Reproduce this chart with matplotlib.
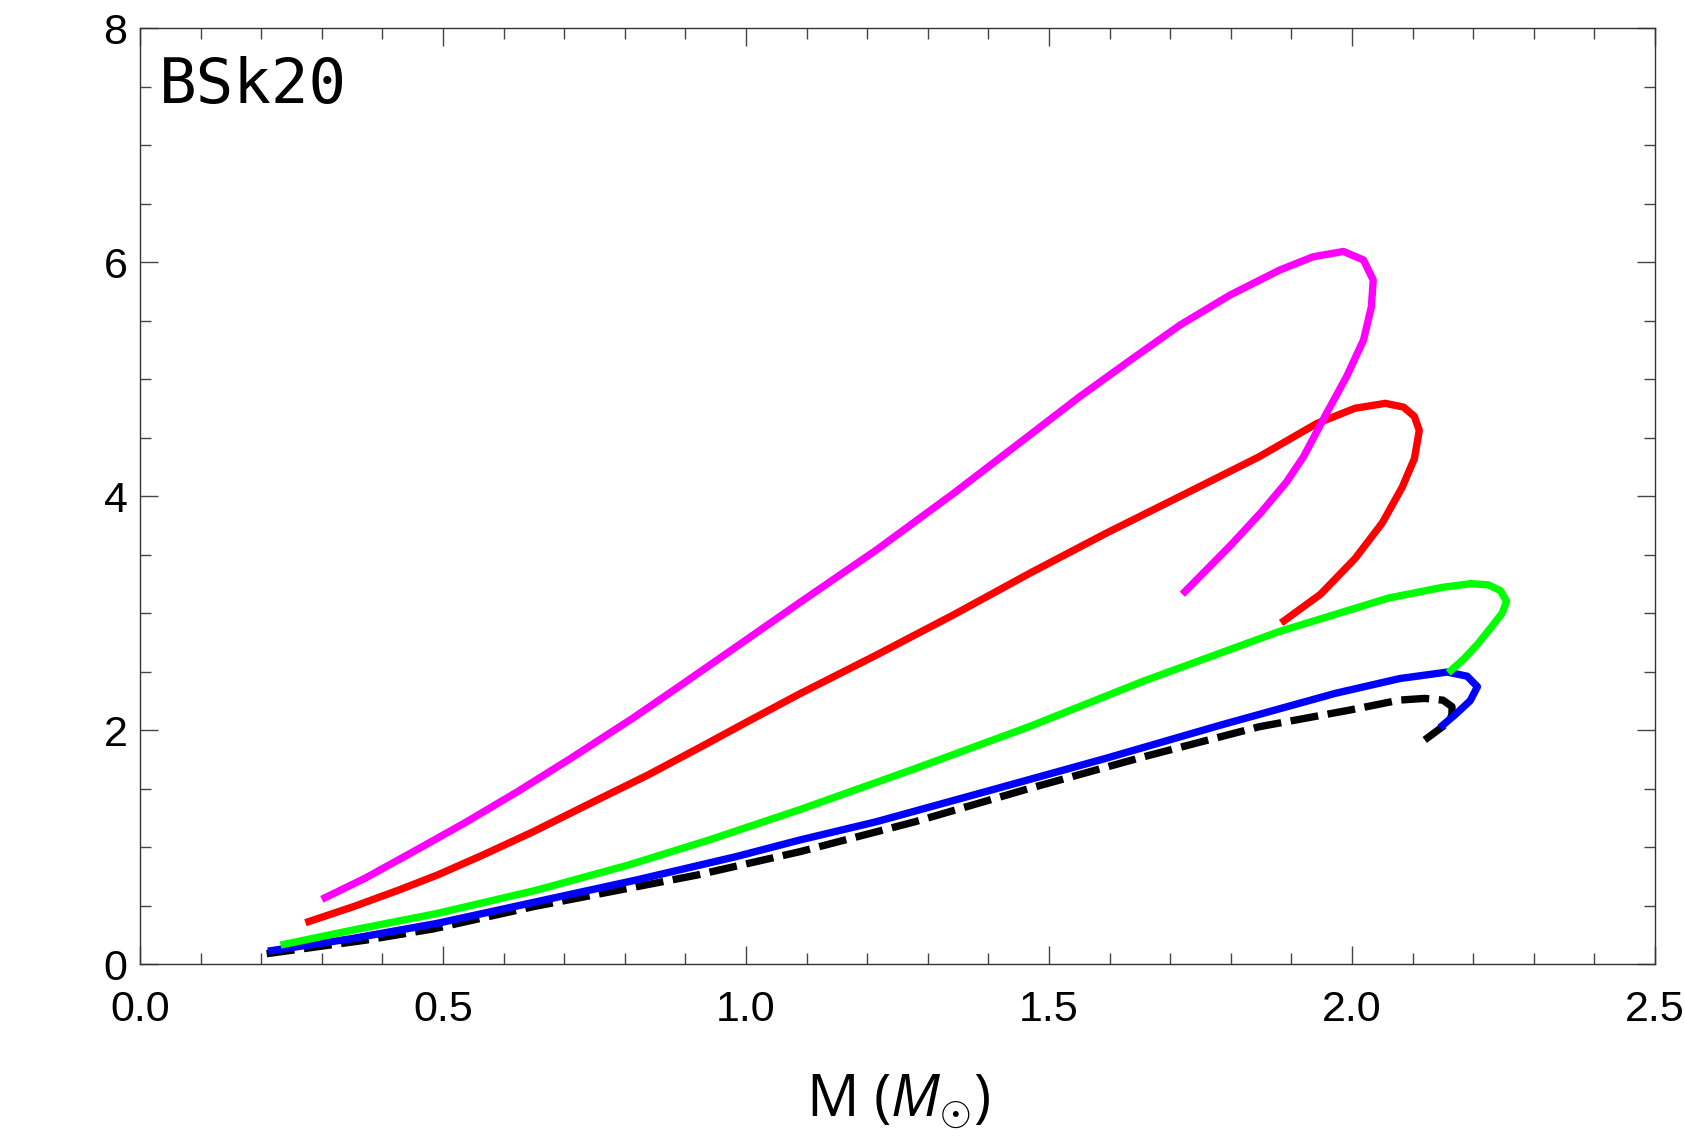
import matplotlib
matplotlib.use("Agg")
import matplotlib.pyplot as plt
from matplotlib.ticker import MultipleLocator, FormatStrFormatter

# values (x: mass in solar masses)
m_magenta = [0.300, 0.371, 0.443, 0.535, 0.623, 0.711, 0.813, 0.901, 0.996, 1.089,
             1.215, 1.342, 1.468, 1.551, 1.634, 1.716, 1.799, 1.881, 1.936, 1.986,
             2.019, 2.035, 2.032, 2.019, 1.991, 1.958, 1.920, 1.892, 1.850, 1.800,
             1.760, 1.720]
y_magenta = [0.553, 0.732, 0.937, 1.203, 1.473, 1.758, 2.100, 2.413, 2.755, 3.090,
             3.538, 4.020, 4.520, 4.850, 5.160, 5.460, 5.718, 5.932, 6.045, 6.090,
             6.017, 5.846, 5.618, 5.333, 5.020, 4.707, 4.336, 4.120, 3.860, 3.580,
             3.370, 3.160]

m_red = [0.273, 0.352, 0.427, 0.491, 0.566, 0.649, 0.743, 0.838, 0.926, 1.002,
         1.089, 1.215, 1.342, 1.468, 1.594, 1.721, 1.847, 1.942, 2.005, 2.055,
         2.085, 2.103, 2.111, 2.103, 2.083, 2.050, 2.005, 1.948, 1.883]
y_red = [0.353, 0.490, 0.632, 0.761, 0.932, 1.131, 1.373, 1.615, 1.857, 2.070,
         2.310, 2.640, 2.983, 3.339, 3.681, 4.009, 4.336, 4.620, 4.750, 4.792,
         4.760, 4.680, 4.560, 4.320, 4.077, 3.770, 3.465, 3.160, 2.915]

m_green = [0.232, 0.352, 0.491, 0.655, 0.806, 0.939, 1.089, 1.279, 1.468, 1.657,
           1.879, 2.061, 2.150, 2.196, 2.225, 2.245, 2.255, 2.248, 2.230, 2.207,
           2.185, 2.159]
y_green = [0.162, 0.291, 0.433, 0.632, 0.846, 1.060, 1.320, 1.670, 2.030, 2.420,
           2.840, 3.129, 3.220, 3.251, 3.240, 3.190, 3.100, 3.000, 2.880, 2.732,
           2.610, 2.488]

m_blue = [0.211, 0.352, 0.491, 0.655, 0.819, 0.983, 1.089, 1.215, 1.405, 1.594,
          1.784, 1.973, 2.079, 2.157, 2.190, 2.207, 2.195, 2.170, 2.145]
y_blue = [0.110, 0.219, 0.348, 0.533, 0.718, 0.917, 1.060, 1.216, 1.487, 1.758,
          2.043, 2.314, 2.440, 2.495, 2.460, 2.370, 2.250, 2.130, 2.020]

m_black = [0.209, 0.374, 0.484, 0.649, 0.919, 1.089, 1.279, 1.468, 1.657, 1.847,
           1.997, 2.079, 2.120, 2.150, 2.165, 2.165, 2.150, 2.120]
y_black = [0.088, 0.205, 0.300, 0.490, 0.760, 0.960, 1.216, 1.501, 1.772, 2.028,
           2.171, 2.256, 2.270, 2.255, 2.200, 2.120, 2.030, 1.915]

plt.rcParams['mathtext.fontset'] = 'custom'
plt.rcParams['mathtext.rm'] = 'Open Sans'
plt.rcParams['mathtext.it'] = 'Open Sans:italic'

fig = plt.figure(figsize=(16.85, 11.42), dpi=100)
ax = fig.add_axes([140 / 1685, 1 - 964 / 1142, 1515 / 1685, 936 / 1142])

lw = 5.3
ax.plot(m_black, y_black, color='black', lw=lw, ls=(0, (3.8, 1.3)), dash_capstyle='butt')
ax.plot(m_blue, y_blue, color='#0000ff', lw=lw, solid_capstyle='butt')
ax.plot(m_green, y_green, color='#00ff00', lw=lw, solid_capstyle='butt')
ax.plot(m_red, y_red, color='#ff0000', lw=lw, solid_capstyle='butt')
ax.plot(m_magenta, y_magenta, color='#ff00ff', lw=lw, solid_capstyle='butt')

ax.set_xlim(0, 2.5)
ax.set_ylim(0, 8)
ax.xaxis.set_major_locator(MultipleLocator(0.5))
ax.xaxis.set_minor_locator(MultipleLocator(0.1))
ax.yaxis.set_major_locator(MultipleLocator(2))
ax.yaxis.set_minor_locator(MultipleLocator(0.5))
ax.xaxis.set_major_formatter(FormatStrFormatter('%.1f'))

ax.tick_params(which='both', direction='in', top=True, right=True,
               color='#444444', width=1.0)
ax.tick_params(which='major', length=13)
ax.tick_params(which='minor', length=8)
ax.tick_params(axis='x', which='major', pad=19)
ax.tick_params(axis='y', which='major', pad=9)
for lab in ax.get_xticklabels() + ax.get_yticklabels():
    lab.set_fontfamily('Liberation Sans')
    lab.set_fontsize(31)
for sp in ax.spines.values():
    sp.set_linewidth(1.0)
    sp.set_color('#333333')

ax.text(0.0125, 0.920, 'BSk20', transform=ax.transAxes, fontsize=45,
        family='DejaVu Sans Mono', va='baseline', ha='left')
ax.text(0.5, -0.163, r'M ($M_{\odot}$)', transform=ax.transAxes, fontsize=42,
        family='Open Sans', va='baseline', ha='center')

fig.savefig('out.png', dpi=100)
